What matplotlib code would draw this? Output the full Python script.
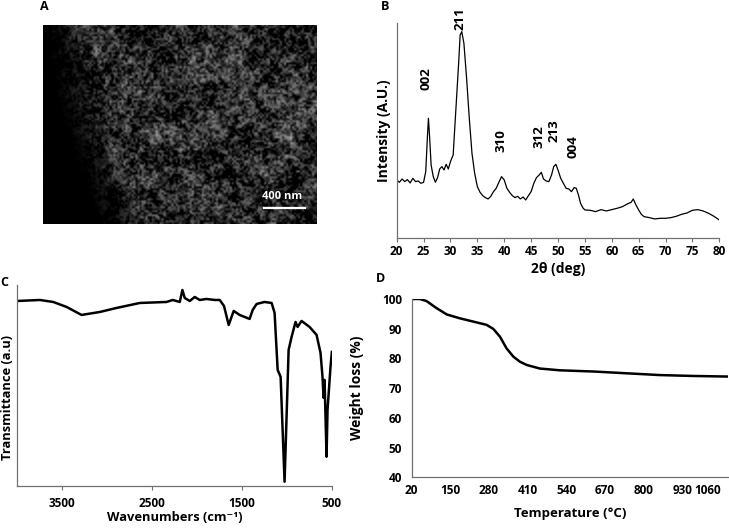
import numpy as np
import matplotlib
matplotlib.use("Agg")
import matplotlib.pyplot as plt

plt.rcParams["font.family"] = ["Open Sans", "DejaVu Sans"]
plt.rcParams["font.weight"] = "bold"

# ---- panel B: XRD pattern (2theta, intensity a.u.) ----
xrd_2theta = [20.0, 20.5, 21.0, 21.5, 22.0, 22.5, 23.0, 23.5, 24.0, 24.5, 25.0, 25.4,
              25.7, 25.9, 26.1, 26.4, 26.8, 27.2, 27.6, 28.0, 28.4, 28.8, 29.2, 29.6,
              30.0, 30.5, 31.0, 31.5, 31.8, 32.1, 32.5, 33.0, 33.5, 34.0, 34.5, 35.0,
              35.5, 36.0, 36.5, 37.0, 37.5, 38.0, 38.5, 39.0, 39.5, 40.0, 40.5, 41.0,
              41.5, 42.0, 42.5, 43.0, 43.5, 44.0, 44.5, 45.0, 45.5, 46.0, 46.5, 46.9,
              47.3, 47.8, 48.3, 48.8, 49.2, 49.6, 50.0, 50.5, 51.0, 51.5, 52.0, 52.5,
              53.0, 53.4, 53.8, 54.2, 54.6, 55.0, 56.0, 57.0, 58.0, 59.0, 60.0, 61.0,
              62.0, 63.0, 63.6, 64.0, 64.5, 65.0, 65.5, 66.0, 67.0, 68.0, 69.0, 70.0,
              71.0, 72.0, 73.0, 74.0, 75.0, 76.0, 77.0, 78.0, 79.0, 80.0]
xrd_intensity = [175, 168, 178, 170, 176, 166, 180, 170, 172, 165, 168, 200,
                 300, 360, 310, 220, 185, 168, 182, 208, 215, 205, 222, 208,
                 230, 250, 385, 520, 610, 620, 585, 480, 360, 255, 195, 155,
                 138, 128, 122, 118, 126, 140, 150, 168, 185, 175, 150, 138,
                 128, 122, 126, 118, 124, 115, 128, 140, 165, 182, 190, 198,
                 178, 172, 170, 190, 215, 222, 205, 180, 165, 150, 148, 140,
                 152, 150, 130, 105, 92, 85, 84, 80, 86, 82, 86, 90,
                 95, 104, 108, 118, 100, 85, 72, 65, 62, 58, 60, 60,
                 62, 66, 72, 76, 84, 86, 82, 75, 66, 55]
peak_labels = ["002", "211", "310", "312", "213", "004"]
peak_pos = [25.5, 31.8, 39.3, 46.5, 49.3, 52.7]
peak_label_base = [445, 625, 260, 270, 290, 240]

# ---- panel C: FTIR spectrum ----
ir_wavenumber = [4000, 3748, 3600, 3451, 3285, 3081, 2896, 2637, 2340, 2270, 2192,
                 2163, 2137, 2081, 2026, 1970, 1896, 1800, 1748, 1700, 1648, 1620,
                 1592, 1526, 1415, 1381, 1337, 1250, 1170, 1137, 1103, 1070, 1026,
                 981, 948, 904, 881, 837, 748, 670, 626, 604, 592, 581, 559, 548,
                 515, 500]
ir_transmittance = [185, 186, 184, 179, 171, 174, 178, 183, 184, 186, 184,
                    196, 188, 185, 189, 186, 187, 186, 186, 180, 161, 168,
                    175, 171, 167, 176, 182, 184, 183, 173, 116, 109, 4,
                    136, 149, 164, 159, 165, 159, 151, 133, 109, 88, 106, 29, 76,
                    119, 134]
ir_ticks = [3500, 2500, 1500, 500]

# ---- panel D: TGA curve ----
tga_temp = [20, 48, 70, 104, 138, 182, 227, 272, 295, 317, 339, 362, 384, 407,
            451, 519, 631, 743, 855, 967, 1085]
tga_weight = [100, 100, 99.3, 96.9, 94.8, 93.5, 92.4, 91.3, 89.9, 87.3, 83.4,
              80.6, 78.9, 77.8, 76.6, 76.0, 75.6, 75.0, 74.4, 74.1, 73.9]
tga_xticks = [20, 150, 280, 410, 540, 670, 800, 930, 1060]
tga_yticks = [40, 50, 60, 70, 80, 90, 100]

W, H = 729, 531
spine_color = "#707070"


def rect(left, top, right, bottom):
    return [left / W, 1 - bottom / H, (right - left) / W, (bottom - top) / H]


def style_axes(ax, size=8.5):
    for s in ["top", "right"]:
        ax.spines[s].set_visible(False)
    for s in ["left", "bottom"]:
        ax.spines[s].set_color(spine_color)
        ax.spines[s].set_linewidth(0.9)
    ax.tick_params(colors=spine_color, labelcolor="black", labelsize=size,
                   width=0.8, length=3)
    for lab in ax.get_xticklabels() + ax.get_yticklabels():
        lab.set_fontweight("bold")


def value_noise(ny, nx, cell, seed):
    # deterministic hash noise, only used to fake the micrograph texture
    gy = ny // cell + 2
    gx = nx // cell + 2
    j, i = np.mgrid[0:gy, 0:gx].astype(float)
    h = np.sin(i * 12.9898 + j * 78.233 + seed * 37.719) * 43758.5453
    h = h - np.floor(h)
    big = np.kron(h, np.ones((cell, cell)))[:ny, :nx]
    k = max(1, cell // 2)
    c = np.cumsum(np.cumsum(np.pad(big, ((k, k), (k, k)), mode="edge"), 0), 1)
    c = np.pad(c, ((1, 0), (1, 0)))
    s = (c[2 * k:, 2 * k:] - c[:-2 * k, 2 * k:] - c[2 * k:, :-2 * k]
         + c[:-2 * k, :-2 * k]) / (2 * k) ** 2
    return s[:ny, :nx]


fig = plt.figure(figsize=(W / 100, H / 100), dpi=100)

# ---- A: SEM micrograph stand-in ----
axA = fig.add_axes(rect(42.7, 25, 316, 224))
ny, nx = 400, 546
tex = (0.45 * value_noise(ny, nx, 4, 1) + 0.3 * value_noise(ny, nx, 10, 2)
       + 0.25 * value_noise(ny, nx, 40, 3))
tex = np.clip((tex - 0.35) * 1.6, 0, 1)
fx = np.linspace(0, 1, nx)[None, :]
fy = np.linspace(0, 1, ny)[:, None]
edge = 0.0 + 0.2 * fy ** 1.5
shade = np.clip((fx - edge) / 0.18, 0.03, 1.0) ** 1.2
img = tex * shade * 0.55
axA.imshow(img, cmap="gray", vmin=0, vmax=0.8, aspect="auto",
           extent=[0, 1, 0, 1], interpolation="bilinear")
axA.plot([0.81, 0.96], [0.08, 0.08], color="white", lw=1.6,
         transform=axA.transAxes)
axA.text(0.875, 0.11, "400 nm", color="white", fontsize=8, fontweight="bold",
         ha="center", va="bottom", transform=axA.transAxes)
axA.set_axis_off()
fig.text(44 / W, 1 - 6 / H, "A", fontsize=9, fontweight="bold",
         ha="center", va="center")

# ---- B: XRD ----
axB = fig.add_axes(rect(396.7, 23.3, 719.3, 238.3))
axB.plot(xrd_2theta, xrd_intensity, color="black", lw=0.9)
axB.set_xlim(20, 80)
axB.set_ylim(0, 645)
axB.set_xticks(range(20, 81, 5))
axB.set_yticks([])
style_axes(axB)
axB.tick_params(axis="x", pad=1.5)
axB.set_ylabel("Intensity (A.U.)", fontsize=10, fontweight="bold", labelpad=4)
axB.set_xlabel("2θ (deg)", fontsize=10, fontweight="bold", labelpad=3)
for lab, x, y in zip(peak_labels, peak_pos, peak_label_base):
    axB.text(x, y, lab, rotation=90, ha="center", va="bottom",
             fontsize=9.5, fontweight="bold")
fig.text(385 / W, 1 - 7 / H, "B", fontsize=9, fontweight="bold",
         ha="center", va="center")

# ---- C: FTIR ----
axC = fig.add_axes(rect(17.3, 285, 332.3, 485.7))
axC.plot(ir_wavenumber, ir_transmittance, color="black", lw=1.8)
axC.set_xlim(4000, 495)
axC.set_ylim(0, 201)
axC.set_xticks(ir_ticks)
axC.set_yticks([])
style_axes(axC)
axC.tick_params(axis="x", pad=5)
axC.set_xlabel("Wavenumbers (cm⁻¹)", fontsize=9.3, fontweight="bold",
               labelpad=1)
fig.text(8 / W, 1 - 398 / H, "Transmittance (a.u)", rotation=90,
         fontsize=9.3, fontweight="bold", ha="center", va="center")
fig.text(4 / W, 1 - 282 / H, "C", fontsize=9, fontweight="bold",
         ha="center", va="center")

# ---- D: TGA ----
axD = fig.add_axes(rect(411.7, 299, 728.3, 477.3))
axD.plot(tga_temp, tga_weight, color="black", lw=1.8)
axD.set_xlim(20, 1085)
axD.set_ylim(40, 100)
axD.set_xticks(tga_xticks)
axD.set_yticks(tga_yticks)
style_axes(axD)
axD.tick_params(axis="x", length=0, pad=5)
axD.tick_params(axis="y", length=0, pad=7)
axD.get_xticklabels()[-1].set_horizontalalignment("right")
axD.get_xticklabels()[-1].set_x(1083)
axD.set_xlabel("Temperature (°C)", fontsize=9.5, fontweight="bold", labelpad=7)
axD.set_ylabel("Weight loss (%)", fontsize=10, fontweight="bold", labelpad=13)
fig.text(381 / W, 1 - 278 / H, "D", fontsize=9, fontweight="bold",
         ha="center", va="center")

fig.savefig("out.png", dpi=100)
